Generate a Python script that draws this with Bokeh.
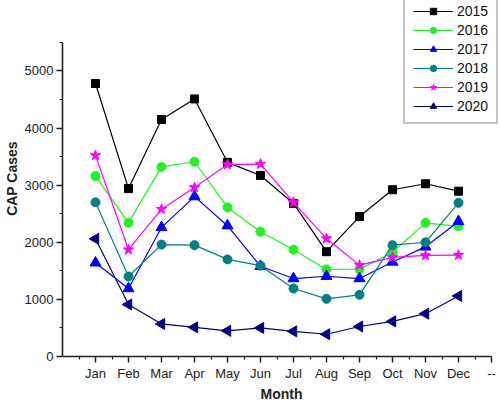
import math
from bokeh.plotting import figure
from bokeh.models import Range1d, FixedTicker
from bokeh.embed import file_html
from bokeh.resources import INLINE

months = ["Jan", "Feb", "Mar", "Apr", "May", "Jun", "Jul", "Aug", "Sep", "Oct", "Nov", "Dec"]
month_idx = list(range(1, 13))
tick_labels = months + ["--"]

y2015 = [4780, 2940, 4150, 4510, 3400, 3170, 2680, 1835, 2450, 2920, 3025, 2895]
y2016 = [3160, 2340, 3320, 3410, 2610, 2185, 1870, 1525, 1530, 1820, 2340, 2280]
y2017 = [1640, 1190, 2260, 2800, 2290, 1580, 1365, 1405, 1365, 1655, 1920, 2365]
y2018 = [2700, 1400, 1960, 1950, 1700, 1590, 1190, 1010, 1080, 1950, 2000, 2690]
y2019 = [3520, 1870, 2580, 2960, 3360, 3370, 2700, 2065, 1600, 1735, 1770, 1775]
y2020 = [2060, 910, 570, 510, 450, 500, 440, 390, 525, 615, 750, 1060]

series = [
    ("2015", y2015, "#000000", "square", 8, 0.0),
    ("2016", y2016, "#22f022", "circle", 9, 0.0),
    ("2017", y2017, "#0000ff", "triangle", 11, 0.0),
    ("2018", y2018, "#008080", "circle", 9, 0.0),
    ("2019", y2019, "#ff00ff", "star", 11, 0.0),
    ("2020", y2020, "#000080", "triangle", 11, math.pi / 2),
]

FONT = "Liberation Sans"
X_AXIS_END = 13
Y_AXIS_END = 5500
# frame spans full top/right of canvas so the legend can sit above the axis top
FRAME_W, FRAME_H = 500 - 62, 357
x_end = FRAME_W / 33.0
y_end = Y_AXIS_END * FRAME_H / 315.0

p = figure(width=500, height=404, output_backend="svg", toolbar_location=None,
           x_range=Range1d(0, x_end), y_range=Range1d(0, y_end),
           min_border_left=62, min_border_right=0, min_border_top=0, min_border_bottom=47)
p.grid.visible = False
p.outline_line_color = None
p.background_fill_color = "white"

for name, ys, color, marker, size, ang in series:
    p.line(month_idx, ys, line_color=color, line_width=1.2, legend_label=name)
    p.scatter(month_idx, ys, marker=marker, size=size, fill_color=color, line_color=color,
              angle=ang, legend_label=name)

xa = p.xaxis[0]
xa.ticker = FixedTicker(ticks=list(range(1, 14)), minor_ticks=[i + 0.5 for i in range(0, 13)])
xa.major_label_overrides = {i + 1: lab for i, lab in enumerate(tick_labels)}
xa.bounds = (0, X_AXIS_END)
ya = p.yaxis[0]
ya.ticker = FixedTicker(ticks=[0, 1000, 2000, 3000, 4000, 5000],
                        minor_ticks=[500, 1500, 2500, 3500, 4500, 5500])
ya.bounds = (0, Y_AXIS_END)
for ax in (xa, ya):
    ax.axis_line_width = 1.6
    ax.axis_line_color = "#222222"
    ax.major_tick_line_color = "#222222"
    ax.minor_tick_line_color = "#222222"
    ax.major_tick_line_width = 1.4
    ax.minor_tick_line_width = 1.2
    ax.major_tick_in = 0
    ax.major_tick_out = 6
    ax.minor_tick_in = 0
    ax.minor_tick_out = 3
    ax.major_label_text_font = FONT
    ax.major_label_text_font_size = "13px"
    ax.major_label_text_color = "#222222"
    ax.major_label_text_line_height = 1.0
    ax.axis_label_text_font = FONT
    ax.axis_label_text_font_size = "14px"
    ax.axis_label_text_font_style = "bold"
    ax.axis_label_text_color = "#222222"
    ax.axis_label_text_line_height = 1.0
xa.axis_label = "Month"
ya.axis_label = "CAP Cases"
xa.major_label_standoff = 3
xa.axis_label_standoff = 2
ya.major_label_standoff = 3
ya.axis_label_standoff = 2

leg = p.legend[0]
leg.location = (341, 232)
leg.border_line_color = "#888888"
leg.border_line_width = 2
leg.background_fill_alpha = 1
leg.label_text_font = FONT
leg.label_text_font_size = "14px"
leg.label_text_color = "#111111"
leg.glyph_width = 40
leg.glyph_height = 16
leg.label_height = 16
leg.spacing = 3
leg.padding = 8
leg.margin = 0
leg.label_standoff = 4

open("out.html", "w").write(file_html(p, INLINE))
